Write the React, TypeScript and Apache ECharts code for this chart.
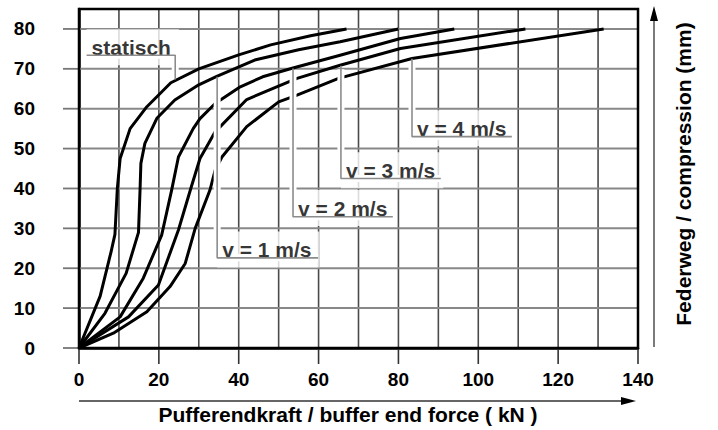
import React, { useEffect, useRef } from 'react';
import * as echarts from 'echarts';

// ---- axis ranges, grid and tick values ----
const X_MAX = 140;
const Y_MAX = 85;
const xGridValues = [0, 10, 20, 30, 40, 50, 60, 70, 80, 90, 100, 110, 120, 130, 140];
const yGridValues = [0, 10, 20, 30, 40, 50, 60, 70, 80];
const xTickValues = [0, 20, 40, 60, 80, 100, 120, 140];
const yTickValues = [0, 10, 20, 30, 40, 50, 60, 70, 80];

// ---- curves: buffer end force (kN) vs. compression (mm) ----
const statischKN = [0, 5.3, 8, 9, 9.6, 10.3, 12.8, 17, 23, 30, 40, 48, 58, 67];
const statischMM = [0, 13, 24, 28.5, 40, 47.5, 55, 60.5, 66.5, 70, 73.5, 76, 78.3, 80];

const v1KN = [0, 6.5, 11.8, 14.9, 15.3, 15.5, 16.5, 19.5, 24, 30, 34.5, 44, 55, 65.4, 80];
const v1MM = [0, 8.7, 18.7, 29, 40, 46.3, 51.3, 57.6, 62.2, 66, 68.1, 72.2, 74.8, 76.8, 80];

const v2KN = [0, 10.3, 16.1, 20.7, 23.2, 24.9, 28.6, 30.3, 34.1, 40.4, 46, 53.6, 65.4, 80.5, 94];
const v2MM = [0, 7.8, 17.5, 28.3, 39.6, 47.9, 55, 57.5, 61.3, 65.5, 68, 70.2, 73.4, 77.6, 80];

const v3KN = [0, 12.4, 19.9, 24.9, 28, 30.3, 34.1, 42, 54.6, 65.4, 80.5, 111.8];
const v3MM = [0, 7.8, 15.8, 29.6, 40, 47.5, 54.2, 62.3, 67.6, 70.9, 75.1, 80];

const v4KN = [0, 8.6, 17, 22.8, 26.6, 29.1, 32.8, 34.1, 35.8, 42, 50, 54.6, 65, 83.4, 131.4];
const v4MM = [0, 3.7, 9.1, 15.4, 21.2, 30, 39.6, 44.6, 47.9, 55.5, 61.7, 63.4, 67.6, 72.6, 80];

// ---- annotation labels and their leader lines ----
const labelTexts = ['statisch', 'v = 1 m/s', 'v = 2 m/s', 'v = 3 m/s', 'v = 4 m/s'];
const labelKN = [1.9, 34.6, 53.6, 65.6, 83.4];
const labelMM = [75.9, 25.2, 35.6, 45.1, 55.6];

const leaderStatischKN = [1.9, 24.1, 24.1];
const leaderStatischMM = [73.4, 73.4, 67.3];
const leaderV1KN = [34.6, 34.6, 59.9];
const leaderV1MM = [68.0, 22.6, 22.6];
const leaderV2KN = [53.6, 53.6, 78.6];
const leaderV2MM = [70.1, 32.9, 32.9];
const leaderV3KN = [65.6, 65.6, 90.6];
const leaderV3MM = [70.8, 42.5, 42.5];
const leaderV4KN = [83.4, 83.4, 108.4];
const leaderV4MM = [72.5, 53, 53];

const FONT = "'Liberation Sans', Arial, Helvetica, sans-serif";

const zip = (xs: number[], ys: number[]) => xs.map((x, i) => [x, ys[i]]);

export default function App() {
  const ref = useRef<HTMLDivElement>(null);

  useEffect(() => {
    if (!ref.current) return;
    const chart = echarts.init(ref.current, undefined, { renderer: 'svg' });

    const curves = [
      zip(statischKN, statischMM),
      zip(v1KN, v1MM),
      zip(v2KN, v2MM),
      zip(v3KN, v3MM),
      zip(v4KN, v4MM),
    ];
    const leaders = [
      zip(leaderStatischKN, leaderStatischMM),
      zip(leaderV1KN, leaderV1MM),
      zip(leaderV2KN, leaderV2MM),
      zip(leaderV3KN, leaderV3MM),
      zip(leaderV4KN, leaderV4MM),
    ];
    const halos = leaders.map((pts, i) => {
      const p = pts.map((q) => [q[0], q[1]]);
      if (i === 0) p[2][1] += 0.9;
      else p[0][1] -= 0.9;
      return p;
    });

    const series: any[] = [];

    // vertical grid lines (every 10 kN)
    series.push({
      type: 'custom',
      coordinateSystem: 'cartesian2d',
      data: xGridValues.map((v) => [v, 0]),
      z: 1,
      silent: true,
      clip: false,
      renderItem: (_p: any, api: any) => {
        const v = api.value(0);
        const a = api.coord([v, 0]);
        const b = api.coord([v, Y_MAX]);
        return {
          type: 'line',
          shape: { x1: a[0], y1: a[1], x2: b[0], y2: b[1] },
          style: { stroke: '#4a4a4a', lineWidth: 1.6 },
        };
      },
    });
    // horizontal grid lines (every 10 mm)
    series.push({
      type: 'custom',
      coordinateSystem: 'cartesian2d',
      data: yGridValues.map((v) => [0, v]),
      z: 1,
      silent: true,
      clip: false,
      renderItem: (_p: any, api: any) => {
        const v = api.value(1);
        const a = api.coord([0, v]);
        const b = api.coord([X_MAX, v]);
        return {
          type: 'line',
          shape: { x1: a[0], y1: a[1], x2: b[0], y2: b[1] },
          style: { stroke: '#888', lineWidth: 2 },
        };
      },
    });
    // x ticks (below the axis, every 20 kN)
    series.push({
      type: 'custom',
      coordinateSystem: 'cartesian2d',
      data: xTickValues.map((v) => [v, 0]),
      z: 1,
      silent: true,
      clip: false,
      renderItem: (_p: any, api: any) => {
        const a = api.coord([api.value(0), 0]);
        return {
          type: 'line',
          shape: { x1: a[0], y1: a[1], x2: a[0], y2: a[1] + 16 },
          style: { stroke: '#333', lineWidth: 1.6 },
        };
      },
    });
    // y ticks (left of the axis, every 10 mm)
    series.push({
      type: 'custom',
      coordinateSystem: 'cartesian2d',
      data: yTickValues.map((v) => [0, v]),
      z: 1,
      silent: true,
      clip: false,
      renderItem: (_p: any, api: any) => {
        const a = api.coord([0, api.value(1)]);
        return {
          type: 'line',
          shape: { x1: a[0] - 16, y1: a[1], x2: a[0], y2: a[1] },
          style: { stroke: '#777', lineWidth: 1.8 },
        };
      },
    });

    curves.forEach((d) =>
      series.push({
        type: 'line',
        data: d,
        symbol: 'none',
        smooth: false,
        z: 2,
        lineStyle: { color: '#000', width: 3, join: 'round' },
        silent: true,
      })
    );
    halos.forEach((d) =>
      series.push({
        type: 'line',
        data: d,
        symbol: 'none',
        z: 3,
        lineStyle: { color: '#fff', width: 7, cap: 'butt' },
        silent: true,
      })
    );
    series.push({
      type: 'scatter',
      symbolSize: 0,
      z: 4,
      silent: true,
      data: labelTexts.map((t, i) => ({ value: [labelKN[i], labelMM[i]], name: t })),
      label: {
        show: true,
        position: 'right',
        distance: 0,
        offset: [0, 2],
        formatter: (p: any) => p.name,
        color: '#000',
        fontFamily: FONT,
        fontWeight: 'bold',
        fontSize: 21,
        lineHeight: 22,
        backgroundColor: '#fff',
        padding: [5, 8, 9, 5],
      },
    });
    leaders.forEach((d) =>
      series.push({
        type: 'line',
        data: d,
        symbol: 'none',
        z: 5,
        lineStyle: { color: '#8c8c8c', width: 1.6 },
        silent: true,
      })
    );

    chart.setOption({
      animation: false,
      grid: {
        left: 79,
        top: 9,
        width: 559,
        height: 339,
        show: false,
      },
      xAxis: {
        type: 'value',
        min: 0,
        max: X_MAX,
        interval: 20,
        position: 'bottom',
        axisLine: { show: true, onZero: false, lineStyle: { color: '#000', width: 2.5 } },
        axisTick: { show: false },
        axisLabel: {
          show: true,
          margin: 22,
          color: '#000',
          fontFamily: FONT,
          fontWeight: 'bold',
          fontSize: 19,
        },
        splitLine: { show: false },
      },
      yAxis: {
        type: 'value',
        min: 0,
        max: Y_MAX,
        interval: 10,
        position: 'left',
        axisLine: { show: true, onZero: false, lineStyle: { color: '#000', width: 2.5 } },
        axisTick: { show: false },
        axisLabel: {
          show: true,
          margin: 44,
          color: '#000',
          fontFamily: FONT,
          fontWeight: 'bold',
          fontSize: 19,
          formatter: (v: number) => (yTickValues.indexOf(v) >= 0 ? String(v) : ''),
        },
        splitLine: { show: false },
      },
      graphic: [
        {
          type: 'rect',
          shape: { x: 79, y: 9, width: 559, height: 339 },
          style: { fill: 'none', stroke: '#000', lineWidth: 2.5 },
          silent: true,
          z: 100,
        },
        {
          type: 'line',
          shape: { x1: 79, y1: 401, x2: 622, y2: 401 },
          style: { stroke: '#333', lineWidth: 1.3 },
          silent: true,
        },
        {
          type: 'polygon',
          shape: { points: [[636, 401], [621, 397], [621, 405]] },
          style: { fill: '#000' },
          silent: true,
        },
        {
          type: 'text',
          x: 348,
          y: 414,
          style: {
            text: 'Pufferendkraft / buffer end force ( kN )',
            fill: '#000',
            font: `bold 21px ${FONT}`,
            textAlign: 'center',
            textVerticalAlign: 'middle',
          },
          silent: true,
        },
        {
          type: 'line',
          shape: { x1: 654, y1: 347, x2: 654, y2: 20 },
          style: { stroke: '#333', lineWidth: 1.3 },
          silent: true,
        },
        {
          type: 'polygon',
          shape: { points: [[654, 6], [650, 21], [658, 21]] },
          style: { fill: '#000' },
          silent: true,
        },
        {
          type: 'text',
          x: 683,
          y: 174,
          rotation: Math.PI / 2,
          style: {
            text: 'Federweg / compression (mm)',
            fill: '#000',
            font: `bold 21px ${FONT}`,
            textAlign: 'center',
            textVerticalAlign: 'middle',
          },
          silent: true,
        },
      ],
      series,
    });

    return () => chart.dispose();
  }, []);

  return (
    <div
      ref={ref}
      style={{ position: 'fixed', left: 0, top: 0, width: 718, height: 430, background: '#fff' }}
    />
  );
}
